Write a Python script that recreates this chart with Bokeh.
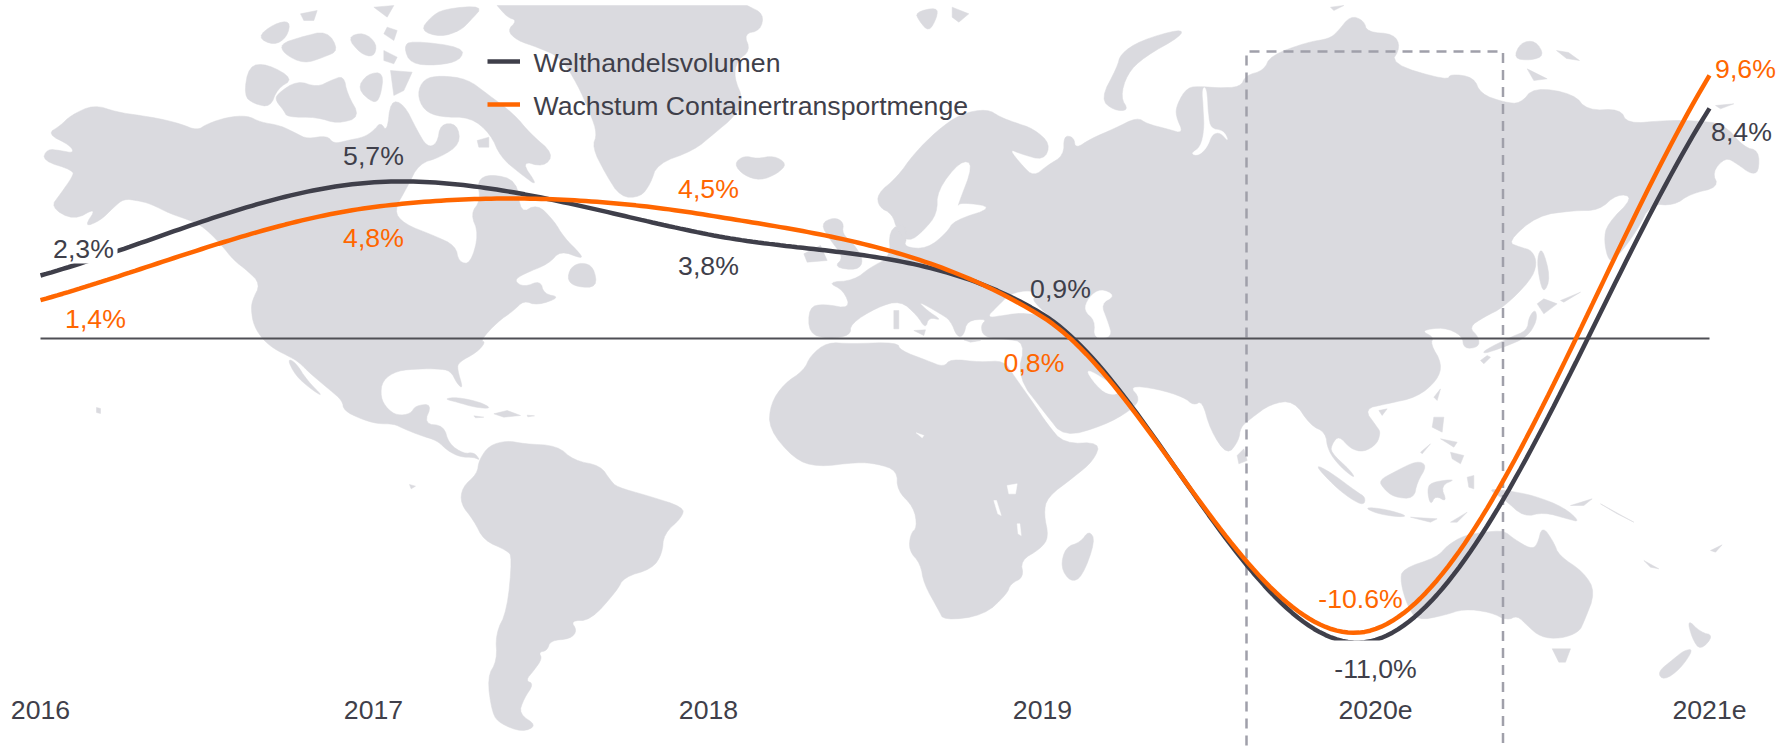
import numpy as np
from bokeh.plotting import figure
from bokeh.models import Range1d
from bokeh.core.properties import value
from bokeh.embed import file_html
from bokeh.resources import INLINE

# ---------- chart data ----------
years = ["2016", "2017", "2018", "2019", "2020e", "2021e"]
welthandel = [2.3, 5.7, 3.8, 0.9, -11.0, 8.4]
container = [1.4, 4.8, 4.5, 0.8, -10.6, 9.6]
welthandel_labels = ["2,3%", "5,7%", "3,8%", "0,9%", "-11,0%", "8,4%"]
container_labels = ["1,4%", "4,8%", "4,5%", "0,8%", "-10.6%", "9,6%"]
legend_names = ["Welthandelsvolumen", "Wachstum Containertransportmenge"]

DARK = "#3F3F4A"
ORANGE = "#FF6600"
MAP = "#DADADF"
W, H = 1790, 750
OX, OY = 0, 0

# label anchors in page pixels
welt_lab_x = [83, 373, 708, 1060, 1375, 1741]
welt_lab_y = [248, 155, 265, 288, 668, 131]
cont_lab_x = [95, 373, 708, 1033.5, 1360, 1745]
cont_lab_y = [318, 237, 188, 362, 598, 68]


def Z(ox, oy, pts):
    return [(ox + a / 3, oy + b / 3) for a, b in pts]


def z5(p): return Z(40, 0, p)
def z6(p): return Z(480, 0, p)
def z7(p): return Z(1000, 0, p)
def z8(p): return Z(1270, 60, p)
def z9(p): return Z(240, 300, p)
def z10(p): return Z(750, 300, p)
def z11(p): return Z(1250, 375, p)


# ---------- background map outline ----------
north_america = (
    z5([(5, 480), (20, 445), (60, 450), (100, 458), (90, 435), (20, 400), (60, 375), (90, 345), (160, 312), (230, 335),
        (300, 345), (360, 355), (420, 370), (470, 390), (500, 370), (560, 350), (620, 345), (660, 365), (720, 375),
        (770, 400), (800, 415), (860, 405), (880, 430), (920, 420), (970, 410), (1000, 390), (1020, 365), (1040, 395),
        (1050, 300), (1090, 310), (1130, 390), (1160, 440), (1190, 430), (1200, 370), (1250, 370), (1260, 430),
        (1200, 470), (1135, 490), (1100, 560), (1060, 630), (1090, 670), (1180, 705), (1245, 735), (1255, 785),
        (1290, 790), (1315, 700), (1290, 640), (1320, 600), (1310, 540), (1350, 520), (1430, 540)])
    + z6([(120, 640), (170, 610), (220, 660), (250, 710), (300, 760), (305, 775), (240, 750), (205, 790), (130, 820),
          (100, 840), (130, 860), (180, 840), (190, 880), (240, 890), (170, 915), (130, 900), (100, 930), (50, 965),
          (0, 1020)])
    + z9([(735, 125), (710, 155), (655, 185), (650, 205), (668, 265), (650, 250), (630, 210), (590, 205), (540, 205),
          (470, 210), (425, 240), (420, 290), (440, 325), (470, 345), (510, 340), (525, 315), (575, 310), (550, 370),
          (610, 375), (625, 430), (670, 460), (700, 455), (720, 480), (700, 470), (660, 470), (620, 450), (590, 420),
          (540, 405), (490, 385), (460, 370), (410, 370), (360, 355), (310, 330), (305, 300), (270, 270), (210, 220),
          (175, 185), (150, 170), (100, 145), (65, 115), (40, 75), (32, 30), (35, 0)])
    + z5([(660, 850), (620, 810), (580, 780), (540, 730), (490, 680), (450, 660), (390, 640), (330, 610), (290, 600),
          (250, 595), (220, 620), (180, 660), (130, 680), (170, 620), (100, 660), (30, 620), (60, 580), (95, 530),
          (100, 510)])
)
baja = z9([(140, 175), (165, 185), (200, 240), (250, 290), (210, 265), (165, 225)])
south_america = z9([(715, 480), (745, 435), (800, 420), (850, 430), (950, 435), (1000, 480), (1080, 495), (1110, 540),
                    (1130, 560), (1220, 585), (1330, 620), (1325, 650), (1270, 700), (1265, 760), (1235, 805),
                    (1150, 830), (1130, 870), (1050, 960), (990, 960), (1010, 990), (990, 1015), (930, 1020),
                    (920, 1050), (895, 1055), (905, 1075), (880, 1110), (855, 1140), (880, 1150), (850, 1195),
                    (835, 1240), (890, 1275), (845, 1295), (780, 1270), (755, 1240), (740, 1130), (770, 1080),
                    (765, 1000), (800, 930), (815, 770), (800, 750), (730, 720), (700, 660), (660, 610), (665, 560),
                    (710, 520)])
greenland = z6([(50, 15), (50, 15), (800, 15), (800, 15), (850, 40), (840, 90), (790, 100), (810, 150), (770, 180),
                (760, 230), (790, 300), (760, 350), (700, 400), (640, 450), (530, 490), (510, 550), (480, 590),
                (420, 590), (375, 520), (335, 440), (350, 400), (330, 340), (290, 250), (240, 170), (170, 140),
                (110, 120), (80, 90), (110, 60), (80, 50)])
africa = z10([(230, 125), (300, 130), (440, 125), (450, 150), (530, 180), (580, 200), (600, 175), (690, 185), (760, 180),
              (790, 225), (850, 310), (890, 370), (940, 430), (1050, 425), (1030, 480), (970, 530), (890, 590),
              (880, 640), (895, 710), (870, 745), (810, 780), (820, 830), (780, 850), (770, 880), (700, 945),
              (580, 960), (565, 930), (520, 850), (510, 790), (475, 750), (480, 700), (500, 680), (490, 620),
              (440, 570), (440, 510), (380, 490), (320, 485), (200, 500), (130, 475), (55, 385), (60, 310), (100, 250),
              (160, 210), (180, 165)])
eurasia = (
    z10([(825, 125), (760, 115), (700, 110), (690, 75), (710, 55), (650, 60), (640, 105), (620, 110), (600, 60),
         (570, 40), (500, 0), (530, 30), (575, 60), (535, 50), (525, 85), (500, 45), (450, 0), (380, 20), (300, 70),
         (300, 105), (235, 115), (175, 100), (175, 20)])
    + z6([(1030, 910), (1110, 925), (1090, 870), (1040, 845), (1120, 840), (1170, 800), (1230, 770), (1225, 690),
          (1270, 665), (1280, 710), (1270, 740), (1340, 745), (1400, 695), (1420, 660), (1545, 620), (1440, 605),
          (1430, 620), (1480, 490), (1440, 480), (1370, 570), (1370, 640), (1330, 690), (1285, 725), (1250, 690),
          (1235, 640), (1195, 620), (1190, 580), (1250, 530), (1300, 460), (1370, 390), (1440, 340), (1520, 325)])
    + z7([(0, 350), (40, 365), (100, 385), (150, 430), (130, 480), (60, 460), (25, 445), (65, 495), (100, 528),
          (140, 495), (190, 465), (190, 405), (220, 410), (225, 445), (270, 415), (340, 385), (410, 350), (440, 370),
          (500, 385), (550, 400), (525, 345), (530, 310), (560, 260), (605, 258), (650, 262), (720, 260), (735, 225),
          (790, 210), (810, 165), (920, 125), (985, 115), (1010, 95), (1050, 45), (1090, 60), (1100, 95), (1180, 100),
          (1200, 140), (1170, 190)])
    + z8([(530, 60), (540, 40), (610, 50), (630, 100), (700, 125), (750, 130), (790, 80), (910, 100), (950, 150),
          (1050, 145), (1070, 190), (1180, 180), (1270, 180), (1360, 190), (1420, 260), (1465, 270), (1465, 335),
          (1440, 340), (1400, 310), (1365, 290), (1325, 335), (1345, 380), (1260, 400), (1210, 435), (1140, 430),
          (1100, 510), (1040, 590), (1015, 605), (1000, 540), (1010, 490), (1090, 410), (1040, 400), (985, 450),
          (910, 450), (800, 465), (710, 545), (750, 560), (785, 570), (800, 610), (780, 660), (700, 740), (640, 770),
          (595, 800), (625, 830), (625, 860), (580, 865), (575, 825), (520, 800), (450, 810), (490, 830), (480, 850),
          (515, 910), (500, 960), (440, 1010), (350, 1030), (280, 1045), (320, 1100)])
    + z11([(390, 170), (380, 205), (340, 230), (300, 220), (265, 180), (245, 205), (240, 230), (300, 285), (315, 310),
           (270, 275), (232, 225), (225, 170), (180, 150), (130, 75), (60, 85), (0, 130)])
    + z10([(1470, 380), (1465, 420), (1430, 465), (1380, 390), (1355, 300), (1330, 315), (1300, 290), (1220, 265),
           (1135, 255), (1170, 295), (1140, 330), (1060, 375), (940, 410), (885, 340), (800, 230)])
)
australia = z11([(455, 580), (560, 545), (590, 510), (640, 480), (700, 470), (760, 465), (790, 490), (840, 520),
                 (860, 510), (875, 450), (910, 500), (925, 540), (1000, 590), (1035, 650), (1000, 740), (985, 770),
                 (930, 790), (870, 785), (830, 750), (800, 720), (770, 735), (720, 710), (640, 700), (580, 720),
                 (500, 735), (470, 690), (450, 620)])
islands = [
    # Canadian Arctic
    z5([(610, 285), (625, 195), (680, 190), (760, 235), (710, 265), (690, 320), (640, 310)]),
    z5([(710, 280), (770, 240), (830, 260), (870, 240), (910, 225), (920, 280), (960, 350), (890, 370), (830, 350),
        (740, 350), (730, 330), (705, 300)]),
    z5([(950, 265), (980, 220), (1030, 215), (1020, 290), (1000, 310)]),
    z5([(1050, 210), (1115, 215), (1090, 270), (1060, 285)]),
    z5([(1130, 280), (1150, 235), (1200, 225), (1280, 235), (1340, 280), (1420, 340), (1470, 400), (1540, 460),
        (1510, 500), (1440, 480), (1495, 560), (1440, 520), (1380, 470), (1350, 400), (1290, 350), (1200, 350),
        (1150, 330)]),
    z5([(1140, 90), (1170, 50), (1210, 25), (1330, 15), (1290, 60), (1260, 90), (1200, 110)]),
    z5([(1090, 140), (1110, 120), (1270, 140), (1260, 180), (1190, 195), (1110, 190)]),
    z5([(650, 110), (700, 70), (750, 60), (740, 110), (700, 135)]),
    z5([(720, 130), (780, 110), (860, 90), (895, 150), (850, 170), (790, 190), (730, 160)]),
    z5([(920, 110), (970, 95), (1010, 130), (1000, 170), (960, 160)]),
    z5([(1030, 150), (1070, 170), (1060, 190), (1030, 180)]),
    z5([(780, 40), (830, 30), (820, 60), (790, 60)]),
    z5([(1040, 80), (1070, 90), (1060, 120), (1030, 100)]),
    z5([(1000, 20), (1060, 15), (1040, 50)]),
    z5([(1310, 420), (1345, 410), (1345, 440), (1315, 440)]),
    # Atlantic and Europe
    z6([(270, 800), (305, 785), (340, 800), (350, 860), (290, 860), (260, 840)]),
    z6([(760, 490), (790, 465), (830, 475), (880, 465), (920, 490), (890, 520), (840, 540), (790, 525)]),
    z6([(1305, 35), (1370, 20), (1370, 50), (1345, 95), (1315, 60)]),
    z6([(1415, 20), (1465, 40), (1435, 65), (1415, 50)]),
    z6([(1020, 670), (1060, 650), (1090, 665), (1085, 700), (1120, 730), (1150, 780), (1130, 810), (1060, 800),
        (1090, 770), (1050, 720)]),
    z6([(970, 760), (1020, 735), (1040, 780), (980, 785)]),
    z10([(430, 30), (445, 30), (445, 85), (430, 85)]),
    z10([(490, 90), (525, 88), (520, 105)]),
    z10([(640, 118), (690, 120), (660, 125)]),
    # Arctic Russia
    z7([(300, 295), (350, 200), (360, 160), (420, 120), (540, 85), (545, 105), (430, 170), (380, 220), (360, 290),
        (385, 330), (340, 330)]),
    z7([(990, 20), (1030, 15), (1000, 30)]),
    z8([(770, 25), (830, 55), (790, 60)]),
    z8([(1335, 135), (1390, 130), (1350, 145)]),
    [(1513, 58), (1520, 42), (1535, 40), (1544, 55), (1530, 60)],
    [(1556, 50), (1568, 52), (1579, 60), (1566, 58)],
    # Japan and Pacific Russia
    z8([(640, 880), (700, 860), (770, 830), (800, 780), (795, 745), (775, 770), (770, 810), (720, 830), (640, 870)]),
    z8([(800, 730), (820, 715), (860, 730), (820, 760)]),
    z8([(630, 900), (650, 885), (660, 890), (640, 910)]),
    z8([(815, 560), (840, 650), (820, 700), (805, 650), (800, 590)]),
    z8([(870, 720), (930, 695), (880, 725)]),
    # Caribbean and Pacific
    z9([(610, 295), (650, 290), (720, 305), (755, 325), (700, 320), (650, 305)]),
    z9([(760, 340), (800, 330), (840, 345), (790, 350)]),
    z9([(700, 346), (730, 350), (705, 352)]),
    z9([(860, 344), (882, 346), (862, 349)]),
    z9([(507, 552), (525, 557), (512, 565)]),
    baja,
    [(96, 407), (100, 408), (100, 413), (96, 412)],
    # Indian Ocean and South-East Asia
    z10([(1015, 690), (1035, 720), (995, 830), (960, 845), (930, 800), (945, 740), (990, 725)]),
    z10([(1460, 465), (1480, 445), (1490, 480), (1465, 490)]),
    z11([(190, 265), (240, 290), (320, 350), (345, 365), (340, 390), (300, 370), (250, 330)]),
    z11([(340, 395), (400, 400), (470, 420), (450, 425), (380, 415)]),
    z11([(385, 315), (430, 290), (500, 255), (530, 270), (500, 320), (490, 370), (430, 365), (400, 340)]),
    z11([(540, 320), (620, 310), (570, 330), (590, 380), (555, 360), (540, 390), (530, 345)]),
    z11([(550, 125), (580, 125), (575, 170), (545, 155)]),
    z11([(600, 230), (640, 240), (630, 265), (605, 250)]),
    z11([(570, 190), (620, 200), (610, 215)]),
    z11([(510, 230), (540, 205), (515, 235)]),
    z11([(550, 65), (570, 40), (560, 75)]),
    z11([(385, 105), (410, 100), (395, 120)]),
    z11([(600, 440), (650, 410), (620, 440)]),
    z11([(480, 425), (560, 430), (540, 440)]),
    z11([(650, 305), (670, 300), (670, 340), (655, 335)]),
    z11([(710, 340), (770, 345), (850, 360), (940, 395), (990, 440), (950, 430), (880, 410), (820, 425), (760, 370)]),
    z11([(960, 390), (1025, 370), (1000, 390)]),
    z11([(1380, 525), (1415, 508), (1395, 530)]),
    z11([(1180, 555), (1225, 580), (1200, 575)]),
    z11([(1050, 385), (1150, 440), (1100, 415)]),
    # Australia and New Zealand
    z11([(905, 820), (960, 820), (945, 860), (925, 860)]),
    z11([(1310, 730), (1350, 770), (1390, 780), (1350, 825), (1325, 790)]),
    z11([(1300, 825), (1330, 820), (1290, 880), (1240, 915), (1220, 890), (1270, 850)]),
]
water = [
    z7([(-40, 950), (-10, 920), (30, 880), (90, 870), (110, 885), (90, 900), (190, 985), (130, 945), (60, 935), (0, 945)]),
    z7([(265, 890), (300, 865), (345, 885), (300, 910), (320, 960), (335, 1010), (280, 1015), (285, 960), (250, 930)]),
    z10([(1005, 210), (1030, 215), (1110, 270), (1090, 285), (1050, 270)]),
    z7([(605, 262), (618, 262), (622, 340), (630, 385), (670, 390), (685, 425), (660, 395), (635, 400), (620, 440),
        (595, 465), (570, 460), (600, 440), (612, 390), (610, 330)]),
    z10([(770, 555), (800, 550), (795, 580), (775, 580)]),
    z10([(730, 600), (738, 600), (752, 645), (742, 640)]),
    z10([(800, 670), (808, 670), (812, 705), (803, 700)]),
    z10([(497, 397), (520, 405), (515, 412)]),
]
land = [north_america, south_america, greenland, africa, eurasia, australia]

# ---------- figure ----------
p = figure(width=W, height=H, output_backend="svg", toolbar_location=None,
           x_axis_location=None, y_axis_location=None, min_border=0,
           x_range=Range1d((OX - 40) / 333.8, (OX + W - 40) / 333.8),
           y_range=Range1d((338 - (OY + H)) / 27.4, (338 - OY) / 27.4))
p.outline_line_color = None
p.grid.visible = False
p.background_fill_color = "white"
p.border_fill_color = "white"
p.extra_x_ranges["px"] = Range1d(OX, OX + W)
p.extra_y_ranges["px"] = Range1d(OY + H, OY)
PX = dict(x_range_name="px", y_range_name="px")


def rounded(pts, passes=2):
    """Corner-cut a traced outline so that it reads as a coast, not as a polygon."""
    if len(pts) < 5:
        return pts
    a = np.asarray(pts, float)
    for _ in range(passes):
        b = np.roll(a, -1, axis=0)
        a = np.column_stack((0.75 * a + 0.25 * b, 0.25 * a + 0.75 * b)).reshape(-1, 2)
    return a.tolist()


def polys(items, color):
    items = [rounded(s) for s in items]
    p.patches([[q[0] for q in s] for s in items], [[q[1] for q in s] for s in items],
              fill_color=color, line_color=color, line_width=0.5, **PX)


polys(land, MAP)
polys(water, "white")
polys(islands, MAP)


def smooth(vals):
    """Smoothed-line chart: cubic segments through the values, as in the source's chart tool."""
    v = np.asarray(vals, float)
    n = len(v)
    m = np.zeros(n)
    m[1:-1] = (v[2:] - v[:-2]) / 2
    m[0], m[-1] = v[1] - v[0], v[-1] - v[-2]
    xs, ys = [], []
    t = np.linspace(0, 1, 61)
    for i in range(n - 1):
        h00 = 2 * t**3 - 3 * t**2 + 1
        h10 = t**3 - 2 * t**2 + t
        h01 = 1 - h00
        h11 = t**3 - t**2
        xs.extend(i + t)
        ys.extend(h00 * v[i] + h10 * m[i] + h01 * v[i + 1] + h11 * m[i + 1])
    return xs, ys


# dashed highlight box
p.line([1246, 1246, 1502.5, 1502.5], [745, 51, 51, 750], line_color="#A0A0AA", line_width=2.5,
       line_dash="10 7", **PX)
# zero line
p.line([0, len(years) - 1], [0, 0], line_color="#4F4F55", line_width=2)

xw, yw = smooth(welthandel)
p.line(xw, yw, line_color=DARK, line_width=4.5)
# plot-area floor trims the dark curve at its lowest point; white label box behind 2,3%
p.quad(left=[1325], right=[1392], top=[640], bottom=[646], fill_color="white", line_color=None, **PX)
p.quad(left=[43], right=[117], top=[230], bottom=[263], fill_color="white", line_color=None, **PX)
xc, yc = smooth(container)
p.line(xc, yc, line_color=ORANGE, line_width=4.5)

FONT = value("Liberation Sans")
common = dict(text_font=FONT, text_font_size="26.67px", text_align="center", text_baseline="middle", **PX)
p.text(welt_lab_x, welt_lab_y, text=welthandel_labels, text_color=DARK, **common)
p.text(cont_lab_x, cont_lab_y, text=container_labels, text_color=ORANGE, **common)
p.text([40, 373, 708, 1042, 1375, 1709], [709] * 6, text=years, text_color=DARK, **common)

# legend
p.line([487, 519.5], [61, 61], line_color=DARK, line_width=4.5, **PX)
p.line([487, 519.5], [104, 104], line_color=ORANGE, line_width=4.5, **PX)
p.text([533, 533], [62, 105], text=legend_names, text_color=DARK, text_font=FONT, text_font_size="26.67px",
       text_align="left", text_baseline="middle", **PX)

open("out.html", "w").write(file_html(p, INLINE))
